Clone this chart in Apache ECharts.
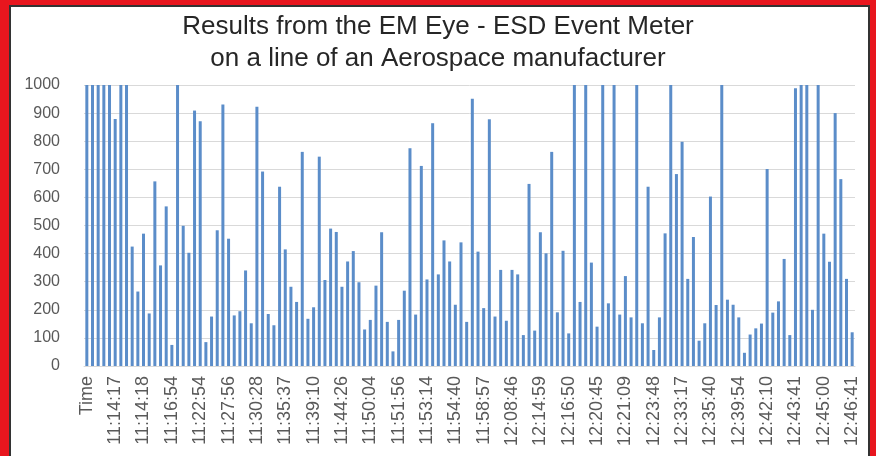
<!DOCTYPE html>
<html lang="en">
<head>
<meta charset="UTF-8">
<title>EM Eye - ESD Event Meter</title>
<script src="https://cdn.jsdelivr.net/npm/echarts@6/dist/echarts.min.js"></script>
<style>
    html, body { margin: 0; padding: 0; }
    body { width: 876px; height: 456px; background: #e8161e; position: relative; overflow: hidden; }
    .frame { position: absolute; left: 9px; top: 5px; width: 857px; height: 451px;
             background: #fff; border: 2px solid #333; border-bottom: none; }
    #chart { position: absolute; left: 0; top: 0; width: 876px; height: 456px; }
</style>
</head>
<body>
<div class="frame"></div>
<div id="chart"></div>

<script type="text/javascript">
    // labels shown on the x axis (one every 5 events)
    var tickLabels = ['Time', '11:14:17', '11:14:18', '11:16:54', '11:22:54', '11:27:56', '11:30:28',
        '11:35:37', '11:39:10', '11:44:26', '11:50:04', '11:51:56', '11:53:14', '11:54:40',
        '11:58:57', '12:08:46', '12:14:59', '12:16:50', '12:20:45', '12:21:09', '12:23:48',
        '12:33:17', '12:35:40', '12:39:54', '12:42:10', '12:43:41', '12:45:00', '12:46:41'];

    // event meter readings
    var readings = [
        1000, 1000, 1000, 1000, 1000, 879, 1000, 1000,
        425, 265, 471, 187, 657, 358, 568, 75,
        1000, 499, 403, 909, 871, 85, 176, 483, 931, 453,
        180, 195, 340, 152,
        923, 692, 185, 145, 638, 415, 282, 228, 762, 168,
        209, 745, 306, 489, 477, 282, 372, 409, 298, 130,
        164, 286, 476, 157,
        52, 164, 268, 775, 183, 712,
        308, 864, 326, 447, 372, 218, 440, 157, 951, 407,
        206, 878, 176, 342, 161, 342, 326, 110, 648, 126,
        476, 401, 762, 191, 410, 116, 1000, 228, 1000, 368,
        140, 1000, 223, 1000, 183, 320, 173, 1000, 152, 638,
        57, 173, 472, 1000, 683, 798, 310, 459,
        90, 152, 603, 217, 1000, 236, 218, 173, 47, 112, 134, 151,
        701, 190, 230, 381, 110, 988, 1000, 1000, 200, 1000, 471, 371, 900, 665, 310, 120
    ];

    var labelStep = 5;
    var categories = readings.map(function (v, i) {
        return i % labelStep === 0 ? tickLabels[i / labelStep] : '';
    });

    var myChart = echarts.init(document.getElementById('chart'), null, {renderer: 'canvas'});

    var option = {
        animation: false,
        title: {
            text: 'Results from the EM Eye - ESD Event Meter\non a line of an Aerospace manufacturer',
            left: 'center',
            top: 6,
            textStyle: {
                fontFamily: 'Liberation Sans',
                fontSize: 26,
                fontWeight: 'normal',
                color: '#262626',
                lineHeight: 32
            }
        },
        grid: {
            left: 84,
            right: 21,
            top: 85,
            bottom: 90
        },
        xAxis: {
            type: 'category',
            data: categories,
            axisTick: {show: false},
            axisLine: {lineStyle: {color: '#d9d9d9', width: 1}},
            axisLabel: {
                interval: labelStep - 1,
                rotate: 90,
                margin: 10,
                fontFamily: 'Liberation Sans',
                fontSize: 18,
                color: '#595959'
            }
        },
        yAxis: {
            type: 'value',
            min: 0,
            max: 1000,
            interval: 100,
            axisLine: {show: false},
            axisTick: {show: false},
            splitLine: {lineStyle: {color: '#d9d9d9', width: 1}},
            axisLabel: {
                margin: 24,
                fontFamily: 'Liberation Sans',
                fontSize: 16,
                color: '#595959',
                formatter: function (v) { return String(v); }
            }
        },
        series: [{
            name: 'ESD events',
            type: 'bar',
            data: readings,
            barWidth: 3,
            itemStyle: {color: '#5b8dc9'}
        }]
    };

    myChart.setOption(option);
</script>
</body>
</html>
